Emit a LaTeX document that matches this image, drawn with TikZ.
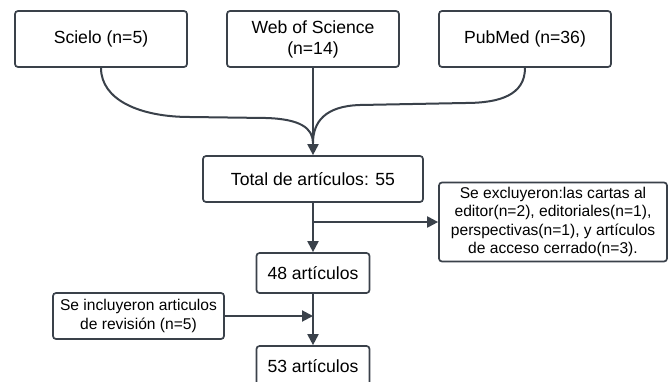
\documentclass[tikz,border=0pt]{standalone}
\usepackage{fontspec}
\setmainfont{Liberation Sans}
\usetikzlibrary{arrows.meta}
\definecolor{ln}{HTML}{3A414A}
\begin{document}
\begin{tikzpicture}[x=1pt,y=-1pt,
  box/.style={draw=ln, line width=1.7pt, rounded corners=3pt, fill=white, inner sep=0pt, align=center, font=\fontsize{17.6}{21}\selectfont},
  sbox/.style={box, font=\fontsize{15.6}{18.3}\selectfont},
  conn/.style={draw=ln, line width=2pt, -{Triangle[length=11pt,width=11pt]}},
  plainline/.style={draw=ln, line width=2pt}]
\useasboundingbox[fill=white] (0,0) rectangle (672,381);
\node[box, minimum width=172pt, minimum height=56pt] (sc) at (101,39) {Scielo (n=5)};
\node[box, minimum width=172pt, minimum height=56pt] (ws) at (313,39) {Web of Science\\(n=14)};
\node[box, minimum width=172pt, minimum height=56pt] (pm) at (525,39) {PubMed (n=36)};
\node[box, minimum width=220pt, minimum height=46pt] (tot) at (313,179) {Total de artículos: 55};
\node[sbox, minimum width=228pt, minimum height=79pt] (ex) at (553,222) {Se excluyeron:las cartas al\\editor(n=2), editoriales(n=1),\\perspectivas(n=1), y artículos\\de acceso cerrado(n=3).};
\node[box, minimum width=113pt, minimum height=40pt] (n48) at (313,273) {48 artículos};
\node[sbox, minimum width=171pt, minimum height=46pt] (inc) at (138.5,316) {Se incluyeron articulos\\de revisión (n=5)};
\node[box, minimum width=113pt, minimum height=40pt] (n53) at (313,366) {53 artículos};
\coordinate (m) at (313,143);
\draw[plainline] (sc.south) .. controls (101,100) and (140,117) .. (190,117) -- (266,118) .. controls (300,119) and (313,128) .. (m);
\draw[plainline] (pm.south) .. controls (525,95) and (500,103) .. (465,103) -- (360,105) .. controls (325,106) and (313,122) .. (m);
\draw[conn] (ws.south) -- (tot.north);
\coordinate (j1) at (tot.south |- ex.west);
\draw[conn] (j1) -- (ex.west);
\draw[conn] (tot.south) -- (n48.north);
\coordinate (j2) at (n48.south |- inc.east);
\draw[conn] (inc.east) -- (j2);
\draw[conn] (n48.south) -- (n53.north);
\end{tikzpicture}
\end{document}
